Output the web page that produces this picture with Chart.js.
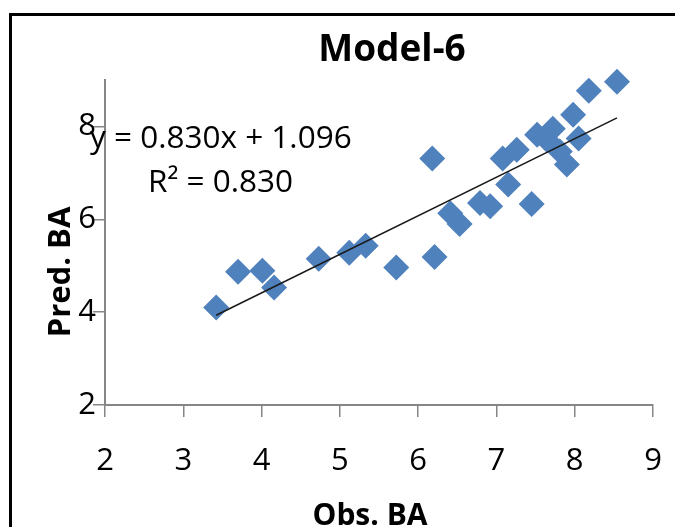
<!DOCTYPE html>
<html>
<head>
<meta charset="utf-8">
<script src="https://cdn.jsdelivr.net/npm/chart.js@4"></script>
<style>
  html, body { margin: 0; padding: 0; background: #fff; }
  #wrap { width: 675px; height: 527px; position: relative; }
</style>
</head>
<body>
<div id="wrap"><canvas id="c" width="675" height="527"></canvas></div>
<script>
// values
const obsBA = [3.42, 3.70, 4.01, 4.16, 4.73, 5.12, 5.33, 5.72, 6.18, 6.21, 6.41, 6.53, 6.79, 6.92,
               7.15, 7.45, 7.08, 7.26, 7.52, 7.64, 7.72, 7.98, 8.05, 7.81, 7.90, 8.18, 8.54];
const predBA = [4.10, 4.87, 4.89, 4.53, 5.15, 5.28, 5.43, 4.96, 7.31, 5.19, 6.13, 5.90, 6.35, 6.28,
                6.75, 6.33, 7.31, 7.50, 7.82, 7.72, 7.95, 8.25, 7.74, 7.46, 7.18, 8.77, 8.96];
// linear trendline end points
const trendX = [3.42, 8.54];
const trendY = [3.935, 8.184];
const xTicks = [2, 3, 4, 5, 6, 7, 8, 9];
const yTicks = [2, 4, 6, 8];
const titleText = 'Model-6';
const xTitle = 'Obs. BA';
const yTitle = 'Pred. BA';
const eqText = 'y = 0.830x + 1.096';
const r2Text = 'R\u00b2 = 0.830';

const FONT = '"Open Sans", "Noto Sans", sans-serif';
const AXIS = '#868686';

// frame, titles and the trendline label
const annotations = {
  id: 'annotations',
  afterDraw(chart) {
    const ctx = chart.ctx;
    ctx.save();
    ctx.strokeStyle = '#000';
    ctx.lineWidth = 3;
    ctx.strokeRect(10.5, 14.5, 720, 600);

    ctx.fillStyle = '#000';
    ctx.textAlign = 'center';
    ctx.textBaseline = 'alphabetic';
    ctx.font = 'bold 37px ' + FONT;
    ctx.fillText(titleText, 392, 61);

    ctx.font = 'bold 30px ' + FONT;
    ctx.fillText(xTitle, 370, 525);

    ctx.save();
    ctx.translate(70, 272);
    ctx.rotate(-Math.PI / 2);
    ctx.font = 'bold 31px ' + FONT;
    ctx.fillText(yTitle, 0, 0);
    ctx.restore();

    ctx.textAlign = 'left';
    ctx.font = '31.5px ' + FONT;
    ctx.fillText(eqText, 90, 148);
    ctx.fillText(r2Text, 148, 192);
    ctx.restore();
  }
};

new Chart(document.getElementById('c'), {
  type: 'scatter',
  data: {
    datasets: [
      {
        type: 'line',
        label: 'Linear',
        data: trendX.map(function(x, i) { return { x: x, y: trendY[i] }; }),
        borderColor: '#1a1a1a',
        borderWidth: 1.6,
        pointRadius: 0,
        fill: false,
        clip: false,
        order: 0
      },
      {
        label: 'Pred. BA',
        data: obsBA.map(function(x, i) { return { x: x, y: predBA[i] }; }),
        pointStyle: 'rectRot',
        pointRadius: 13,
        pointHoverRadius: 13,
        backgroundColor: '#4F81BD',
        borderColor: '#4F81BD',
        borderWidth: 0,
        clip: false,
        order: 1
      }
    ]
  },
  options: {
    responsive: false,
    animation: false,
    layout: { padding: { top: 80, right: 22, left: 0, bottom: 0 } },
    plugins: {
      legend: { display: false },
      tooltip: { enabled: false }
    },
    scales: {
      x: {
        type: 'linear',
        min: 2, max: 9,
        afterBuildTicks: function(s) { s.ticks = xTicks.map(function(v) { return { value: v }; }); },
        afterFit: function(s) { s.height = 122; s.paddingLeft = 0; s.paddingRight = 0; },
        grid: { drawOnChartArea: false, color: AXIS, tickLength: 12, lineWidth: 1.5 },
        border: { color: AXIS, width: 2 },
        ticks: { color: '#000', padding: 26, maxRotation: 0, font: { family: FONT, size: 31 } }
      },
      y: {
        type: 'linear',
        min: 2, max: 9,
        afterBuildTicks: function(s) { s.ticks = yTicks.map(function(v) { return { value: v }; }); },
        afterFit: function(s) { s.width = 105; s.paddingTop = 0; s.paddingBottom = 0; },
        grid: { drawOnChartArea: false, color: AXIS, tickLength: 12, lineWidth: 1.5 },
        border: { color: AXIS, width: 2 },
        ticks: { color: '#000', padding: -3, font: { family: FONT, size: 31 } }
      }
    }
  },
  plugins: [annotations]
});
</script>
</body>
</html>
